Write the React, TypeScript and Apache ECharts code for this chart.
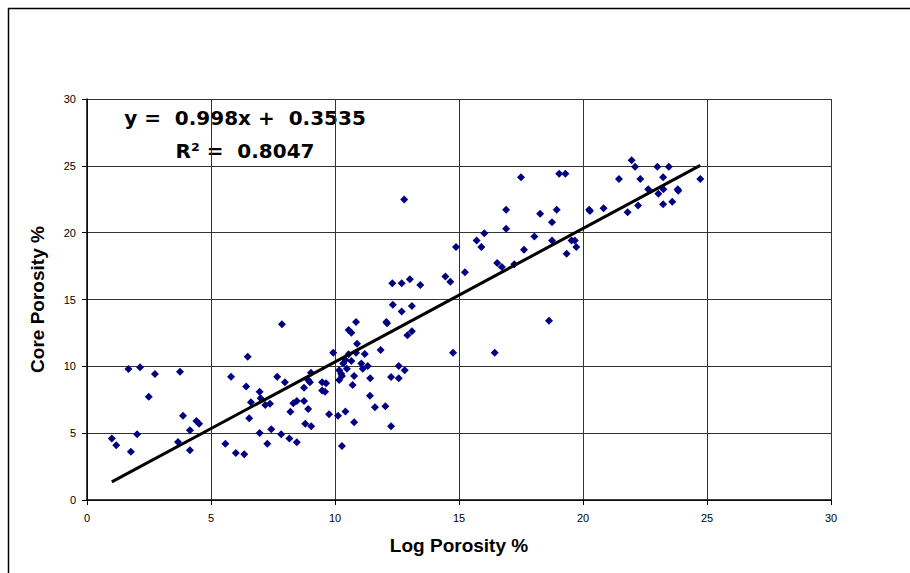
import React, { useEffect, useRef } from "react";
import * as echarts from "echarts";

// Log porosity (x) and core porosity (y), %
const logPorosity: number[] = [
  1.0, 1.18, 1.67, 2.14, 2.74, 2.49, 2.02, 1.77, 3.75, 3.87, 3.67, 4.15, 4.15, 4.41, 4.52,
  5.58, 6.0, 6.34, 6.48, 5.81, 6.42, 6.96, 7.0, 6.61, 7.19, 7.38, 6.54, 6.96, 7.43, 7.83,
  8.16, 8.46, 7.27, 7.67, 7.98, 8.2, 8.32, 8.46, 8.75, 8.92, 8.8, 9.04, 8.75, 8.92, 8.99,
  9.03, 9.48, 9.64, 9.48, 9.6, 9.76, 7.86,
  12.33, 13.1, 12.69, 10.85, 12.07, 12.1, 10.55, 10.66, 13.1, 12.92, 10.89, 9.93, 11.84,
  14.76, 10.55, 10.85, 11.2, 10.42, 10.33, 10.66, 11.06, 11.32, 11.12, 10.48, 10.17, 10.25,
  10.28, 10.17, 10.77, 10.71, 11.42, 12.57, 12.81, 12.26, 12.57, 11.41, 11.61, 12.03,
  10.12, 10.42, 10.77, 12.26, 10.28,
  12.79, 17.5, 19.04, 19.29, 16.9, 18.27, 18.94, 18.75, 16.9, 16.02, 15.71, 15.9, 18.04,
  18.75, 17.62, 19.34, 14.88, 16.54, 16.73, 17.23, 15.24, 14.45, 14.65, 12.31, 12.69,
  13.02, 13.44, 16.44, 18.63,
  21.96, 22.1, 23.0, 23.46, 21.45, 22.31, 23.23, 24.73, 22.63, 23.04, 23.24, 23.82, 23.84,
  23.6, 23.23, 22.22, 21.8, 20.83, 20.25, 20.28, 19.54, 19.67, 19.73,
];
const corePorosity: number[] = [
  4.61, 4.09, 9.8, 9.93, 9.42, 7.73, 4.91, 3.61, 9.6, 6.31, 4.34, 5.21, 3.72, 5.91, 5.71,
  4.21, 3.52, 3.42, 10.72, 9.22, 8.5, 8.1, 7.61, 7.31, 7.11, 7.2, 6.11, 5.01, 5.29, 4.91,
  4.61, 4.32, 4.21, 9.22, 8.8, 6.6, 7.23, 7.4, 7.4, 6.81, 5.71, 5.51, 8.4, 8.98, 8.8,
  9.52, 8.8, 8.73, 8.2, 8.1, 6.41, 13.14,
  14.61, 14.51, 14.11, 13.31, 13.31, 13.22, 12.72, 12.51, 12.62, 12.32, 11.69, 11.02, 11.22,
  11.02, 10.9, 11.02, 10.92, 10.47, 10.22, 10.4, 10.22, 10.02, 9.82, 9.82, 9.7, 9.45,
  9.27, 8.98, 9.27, 8.6, 9.1, 10.02, 9.7, 9.2, 9.1, 7.8, 6.93, 7.01,
  6.31, 6.63, 5.81, 5.51, 4.04,
  22.49, 24.14, 24.41, 24.41, 21.71, 21.41, 21.71, 20.77, 20.29, 19.95, 19.42, 18.92, 19.72,
  19.42, 18.72, 18.42, 18.92, 17.73, 17.43, 17.63, 17.03, 16.73, 16.33, 16.21, 16.21,
  16.51, 16.08, 11.02, 13.41,
  25.41, 24.93, 24.93, 24.93, 24.01, 24.01, 24.14, 24.01, 23.24, 22.91, 23.24, 23.24, 23.13,
  22.31, 22.12, 22.04, 21.52, 21.82, 21.71, 21.62, 19.42, 19.42, 18.92,
];

// Linear trendline reported on the chart
const trendSlope = 0.998;
const trendIntercept = 0.3535;
const trendR2 = 0.8047;

const axisTicks = { min: 0, max: 30, interval: 5 };
const xAxisTitle = "Log Porosity %";
const yAxisTitle = "Core Porosity %";

export default function App() {
  const ref = useRef<HTMLDivElement>(null);

  useEffect(() => {
    document.body.style.margin = "0";
    if (!ref.current) return;
    const chart = echarts.init(ref.current, null, { renderer: "svg" });

    const points = logPorosity.map((x, i) => [x, corePorosity[i]]);
    const xMin = Math.min(...logPorosity);
    const xMax = Math.max(...logPorosity);
    const trend = [
      [xMin, trendSlope * xMin + trendIntercept],
      [xMax, trendSlope * xMax + trendIntercept],
    ];

    const labelFont = {
      fontFamily: "Liberation Sans, Arial, sans-serif",
      fontSize: 11,
      color: "#000",
    };
    const nameFont = {
      fontFamily: "Liberation Sans Narrow, Liberation Sans, Arial, sans-serif",
      fontSize: 19,
      fontWeight: "bold" as const,
      color: "#000",
    };
    const eqFont = "bold 20px 'DejaVu Sans', Verdana, sans-serif";

    chart.setOption({
      animation: false,
      backgroundColor: "#fff",
      grid: { left: 87, right: 79, top: 99, bottom: 73, containLabel: false },
      xAxis: {
        type: "value",
        ...axisTicks,
        name: xAxisTitle,
        nameLocation: "middle",
        nameGap: 36,
        nameTextStyle: nameFont,
        axisLine: { show: true, lineStyle: { color: "#000", width: 1.5 } },
        axisTick: { show: true, length: 5, inside: false, lineStyle: { color: "#000" } },
        axisLabel: { ...labelFont, margin: 12 },
        splitLine: { show: true, lineStyle: { color: "#333", width: 1 } },
      },
      yAxis: {
        type: "value",
        ...axisTicks,
        name: yAxisTitle,
        nameLocation: "middle",
        nameGap: 40,
        nameRotate: 90,
        nameTextStyle: nameFont,
        axisLine: { show: true, lineStyle: { color: "#000", width: 1.5 } },
        axisTick: { show: true, length: 5, inside: false, lineStyle: { color: "#000" } },
        axisLabel: { ...labelFont, margin: 11 },
        splitLine: { show: true, lineStyle: { color: "#333", width: 1 } },
      },
      series: [
        {
          type: "scatter",
          data: points,
          symbol: "diamond",
          symbolSize: 8,
          itemStyle: { color: "#000080", opacity: 1 },
          z: 2,
        },
        {
          type: "line",
          data: trend,
          showSymbol: false,
          symbol: "none",
          lineStyle: { color: "#000", width: 3 },
          z: 3,
        },
      ],
      graphic: [
        {
          type: "rect",
          shape: { x: 8.5, y: 8.5, width: 1200, height: 1200 },
          style: { fill: "none", stroke: "#000", lineWidth: 1.5 },
          silent: true,
        },
        {
          type: "text",
          x: 245,
          y: 118,
          style: {
            text: `y =  ${trendSlope}x +  ${trendIntercept}`,
            font: eqFont,
            fill: "#000",
            textAlign: "center",
            textVerticalAlign: "middle",
          },
        },
        {
          type: "text",
          x: 245,
          y: 151,
          style: {
            text: `R\u00B2 =  ${trendR2}`,
            font: eqFont,
            fill: "#000",
            textAlign: "center",
            textVerticalAlign: "middle",
          },
        },
      ],
    });

    return () => chart.dispose();
  }, []);

  return <div ref={ref} style={{ width: 910, height: 573 }} />;
}
